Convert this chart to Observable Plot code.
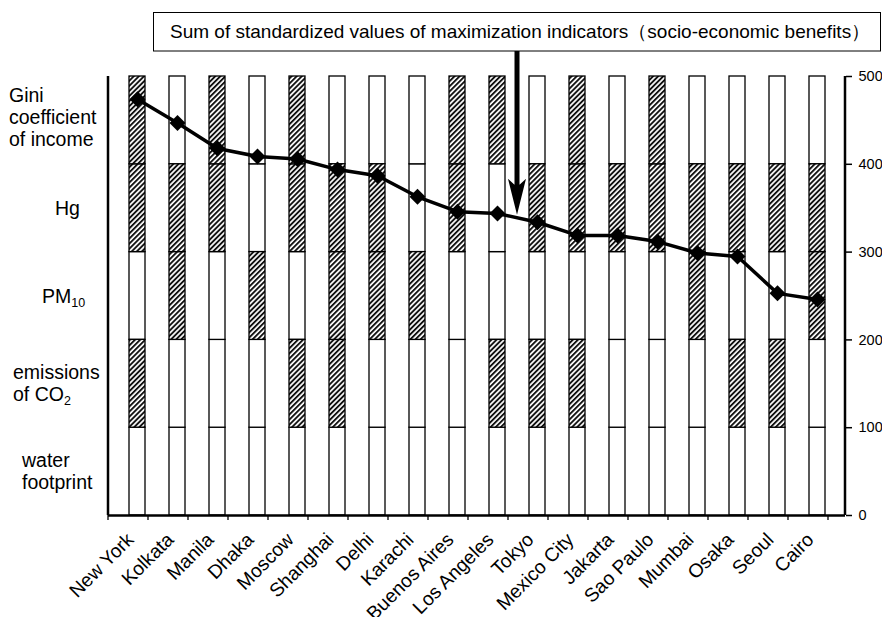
<!DOCTYPE html>
<html><head><meta charset="utf-8">
<script src="https://cdn.jsdelivr.net/npm/d3@7"></script>
<script src="https://cdn.jsdelivr.net/npm/@observablehq/plot@0.6"></script>
<style>
body{margin:0;background:#fff;}
svg{font-family:"Liberation Sans", Arial, sans-serif;}
</style>
</head><body><div id="chart"></div>
<script>
const cities = ["New York","Kolkata","Manila","Dhaka","Moscow","Shanghai","Delhi","Karachi","Buenos Aires","Los Angeles","Tokyo","Mexico City","Jakarta","Sao Paulo","Mumbai","Osaka","Seoul","Cairo"];
const indicators = ["water footprint","emissions of CO2","PM10","Hg","Gini coefficient of income"];
// 1 = hatched (indicator counted), 0 = white
const waterHatched = [0,0,0,0,0,0,0,0,0,0,0,0,0,0,0,0,0,0];
const co2Hatched   = [1,0,0,0,1,1,0,0,0,1,1,1,0,0,0,1,1,0];
const pm10Hatched  = [0,1,0,1,0,1,1,1,0,0,0,0,0,0,1,0,0,1];
const hgHatched    = [1,1,1,0,1,1,1,0,1,0,1,1,1,1,1,1,1,1];
const giniHatched  = [1,0,1,0,1,0,0,0,1,1,0,1,0,1,0,0,0,0];
const segmentSize = 100;
const sumValues = [474,447,418,409,406,394,387,363,346,344,334,319,319,312,299,295,253,246];
const yTicks = [0,100,200,300,400,500];
const annotationText = "Sum of standardized values of maximization indicators（socio-economic benefits）";
const annotationTarget = "Tokyo"; // arrow drawn at left boundary of this band
const leftLabels = [
  {lines: ["Gini","coefficient","of income"], k: 4},
  {lines: ["Hg"], k: 3},
  {lines: [["PM","10"]], k: 2},
  {lines: ["emissions",["of CO","2"]], k: 1},
  {lines: ["water","footprint"], k: 0}
];

const flags = [waterHatched, co2Hatched, pm10Hatched, hgHatched, giniHatched];
const segments = [];
indicators.forEach((ind, k) => cities.forEach((c, i) => segments.push({
  city: c, indicator: ind, y1: k*segmentSize, y2: (k+1)*segmentSize, hatched: flags[k][i] === 1
})));
const sums = cities.map((c, i) => ({city: c, sum: sumValues[i]}));

const FONT = '"Liberation Sans", Arial, sans-serif';
const plot = Plot.plot({
  width: 882, height: 617,
  marginTop: 76, marginBottom: 102, marginLeft: 108, marginRight: 37,
  style: {fontFamily: FONT, fontSize: "18.5px", color: "black", background: "white"},
  x: {domain: cities, paddingInner: 0.61, paddingOuter: 0.305, label: null},
  y: {domain: [0, 500], label: null},
  marks: [
    Plot.barY(segments.filter(d => !d.hatched), {x: "city", y1: "y1", y2: "y2", fill: "white", stroke: "black", strokeWidth: 1.3}),
    Plot.barY(segments.filter(d => d.hatched), {x: "city", y1: "y1", y2: "y2", fill: "url(#hatch)", stroke: "black", strokeWidth: 1.3}),
    Plot.ruleY([0], {strokeWidth: 2.5}),
    Plot.axisX({tickSize: 0, tickRotate: -45, tickPadding: 21, dx: -7, fontSize: 19.3, label: null}),
    Plot.axisY({anchor: "right", ticks: yTicks, tickSize: 6, tickPadding: 7, fontSize: 14.5, label: null, strokeWidth: 1.5, tickFormat: d => String(d)}),
    Plot.line(sums, {x: "city", y: "sum", stroke: "black", strokeWidth: 3.5}),
    Plot.dot(sums, {x: "city", y: "sum", symbol: "diamond2", r: 7.2, fill: "black"})
  ]
});
document.getElementById("chart").appendChild(plot);

const svg = d3.select(plot);
const defs = svg.insert("defs", ":first-child");
const pat = defs.append("pattern").attr("id", "hatch").attr("patternUnits", "userSpaceOnUse")
  .attr("width", 3.6).attr("height", 3.6).attr("patternTransform", "rotate(45)");
pat.append("rect").attr("width", 3.6).attr("height", 3.6).attr("fill", "white");
pat.append("rect").attr("width", 1.9).attr("height", 3.6).attr("fill", "#111");

const xs = plot.scale("x"), ys = plot.scale("y");
const x0 = xs.range[0], x1 = xs.range[1];
const yTop = ys.apply(500), yBot = ys.apply(0);
const g = svg.append("g").attr("text-anchor", "start");
// frame verticals
g.append("line").attr("x1", x0).attr("x2", x0).attr("y1", yTop).attr("y2", yBot).attr("stroke", "black").attr("stroke-width", 2.5);
g.append("line").attr("x1", x1).attr("x2", x1).attr("y1", yTop).attr("y2", yBot).attr("stroke", "black").attr("stroke-width", 2.5);
// boundary ticks
for (let i = 0; i <= cities.length; i++) {
  const bx = x0 + i * xs.step;
  g.append("line").attr("x1", bx).attr("x2", bx).attr("y1", yBot).attr("y2", yBot + 5).attr("stroke", "black").attr("stroke-width", 1.3);
}
// left labels
const lineH = 22;
leftLabels.forEach(lab => {
  const cy = ys.apply(lab.k * segmentSize + segmentSize / 2);
  const n = lab.lines.length;
  const xPos = {4: 9, 3: 55, 2: 42, 1: 13, 0: 22}[lab.k];
  const adj = lab.k === 4 ? -3 : 0;
  lab.lines.forEach((ln, j) => {
    const t = g.append("text").attr("x", xPos).attr("y", cy + 7 + (j - (n - 1) / 2) * lineH + adj)
      .attr("font-size", 19.5).attr("font-family", FONT).attr("fill", "black").attr("text-anchor", "start");
    if (Array.isArray(ln)) {
      t.append("tspan").text(ln[0]);
      t.append("tspan").attr("font-size", 12.5).attr("dy", 4).text(ln[1]);
    } else t.text(ln);
  });
});
// annotation box
g.append("rect").attr("x", 153.5).attr("y", 12.5).attr("width", 727).attr("height", 38.5)
  .attr("fill", "white").attr("stroke", "black").attr("stroke-width", 1);
g.append("text").attr("x", 170).attr("y", 38).attr("font-size", 19).attr("font-family", FONT)
  .attr("text-anchor", "start").text(annotationText);
// arrow
const ax = xs.apply(annotationTarget) - (xs.step - xs.bandwidth) / 2;
const tipY = ys.apply(sumValues[cities.indexOf(annotationTarget)] + 8);
g.append("path").attr("fill", "black").attr("d",
  `M${ax-2.5},51 L${ax+2.5},51 L${ax+2.5},${tipY-30} L${ax+9},${tipY-36} L${ax},${tipY} L${ax-9},${tipY-36} L${ax-2.5},${tipY-30} Z`);
</script>
</body></html>
